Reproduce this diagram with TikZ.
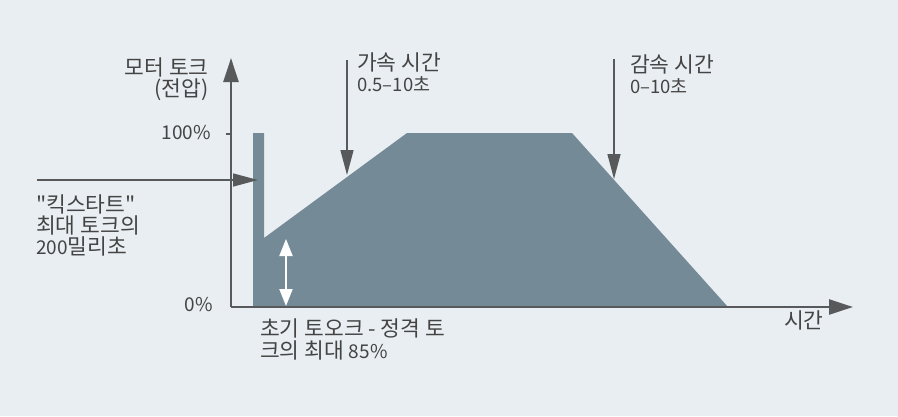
\documentclass[tikz,border=0pt]{standalone}
\usepackage{fontspec}
\setmainfont{Noto Sans CJK KR}[Ligatures=TeXOff]
\usetikzlibrary{arrows.meta}
\definecolor{bgc}{HTML}{E9EEF2}
\definecolor{fillc}{HTML}{758A97}
\definecolor{darkc}{HTML}{58595B}
\definecolor{txtc}{HTML}{444444}
\newcommand{\lnum}[1]{{\fontsize{19}{20}\selectfont #1}}
\tikzset{
  big/.style={inner sep=0pt, text=txtc, font=\fontsize{21.5}{22}\selectfont},
  num/.style={inner sep=0pt, text=txtc, font=\fontsize{19}{20}\selectfont},
  small/.style={inner sep=0pt, text=txtc, font=\fontsize{18.5}{20}\selectfont},
  axisline/.style={draw=darkc, line width=2.4pt, -{Triangle[length=24pt,width=15pt]}},
  pointer/.style={draw=darkc, line width=1.4pt, -{Triangle[length=25pt,width=13pt]}},
  whitearrow/.style={draw=white, line width=2pt, {Triangle[length=17pt,width=13pt]}-{Triangle[length=17pt,width=13pt]}}
}
\begin{document}
\begin{tikzpicture}[x=1pt,y=-1pt]
\useasboundingbox[fill=bgc] (0,0) rectangle (898,416);
% profile
\fill[fillc] (253,307) -- (253,133) -- (264,133) -- (264,238) -- (407,133) -- (572,133) -- (728,307) -- cycle;
% axes
\coordinate (O) at (231,307);
\coordinate (ytop) at (231,58);
\coordinate (xend) at (853,307);
\draw[axisline] (O) -- (ytop);
\draw[axisline] (O) -- (xend);
\coordinate (t1) at (226,134);
\coordinate (t2) at (231,134);
\draw[draw=darkc, line width=1.6pt] (t1) -- (t2);
% pointers
\coordinate (a1) at (347,60);
\coordinate (a2) at (347,175);
\draw[pointer] (a1) -- (a2);
\coordinate (d1) at (614,59);
\coordinate (d2) at (614,179);
\draw[pointer] (d1) -- (d2);
\coordinate (k1) at (37,180);
\coordinate (k2) at (258,180);
\draw[pointer] (k1) -- (k2);
\coordinate (w1) at (286,239);
\coordinate (w2) at (286,306);
\draw[whitearrow] (w1) -- (w2);
% labels
\node[big, anchor=east] (yl1) at (209,67) {모터 토크};
\node[big, anchor=east] (yl2) at (209,90) {(전압)};
\node[num, anchor=east] (p100) at (211,133) {100\%};
\node[num, anchor=east] (p0) at (213,305) {0\%};
\node[big, anchor=west] (acc1) at (357,62) {가속 시간};
\node[small, anchor=west] (acc2) at (357,84) {0.5–10초};
\node[big, anchor=west] (dec1) at (630,64) {감속 시간};
\node[small, anchor=west] (dec2) at (630,86) {0–10초};
\node[big, anchor=west] (k1t) at (36,204) {"킥스타트"};
\node[big, anchor=west] (k2t) at (36,225) {최대 토크의};
\node[big, anchor=west] (k3t) at (36,246) {\lnum{200}밀리초};
\node[big, anchor=west] (b1) at (260,328) {초기 토오크 - 정격 토};
\node[big, anchor=west] (b2) at (260,350) {크의 최대 \lnum{85\%}};
\node[big, anchor=west] (tl) at (784,320) {시간};
\end{tikzpicture}
\end{document}
